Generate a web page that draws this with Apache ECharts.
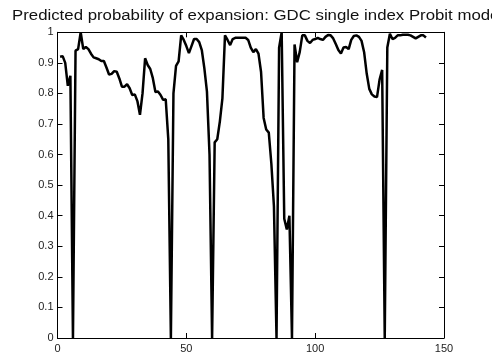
<!DOCTYPE html>
<html>
<head>
<meta charset="utf-8">
<script src="https://cdn.jsdelivr.net/npm/echarts@6/dist/echarts.min.js"></script>
<style>
html,body{margin:0;padding:0;background:#fff;}
#chart{width:492px;height:354px;}
</style>
</head>
<body>
<div id="chart"></div>
<script>
var titleText = "Predicted probability of expansion: GDC single index Probit model";
var xStart = 1; // first observation index
var probability = [
  0.920, 0.922, 0.900, 0.825, 0.858, 0.000, 0.940, 0.945, 1.000, 0.945,
  0.952, 0.945, 0.930, 0.918, 0.915, 0.912, 0.906, 0.906, 0.885, 0.862,
  0.864, 0.873, 0.871, 0.849, 0.822, 0.822, 0.830, 0.817, 0.795, 0.797,
  0.775, 0.730, 0.800, 0.915, 0.893, 0.880, 0.850, 0.805, 0.806, 0.795,
  0.779, 0.781, 0.650, 0.000, 0.800, 0.890, 0.905, 0.990, 0.975, 0.955,
  0.932, 0.955, 0.978, 0.978, 0.968, 0.942, 0.882, 0.806, 0.600, 0.000,
  0.640, 0.650, 0.708, 0.784, 0.990, 0.975, 0.958, 0.978, 0.982, 0.982,
  0.982, 0.982, 0.982, 0.975, 0.950, 0.935, 0.945, 0.930, 0.870, 0.720,
  0.682, 0.672, 0.570, 0.430, 0.000, 0.950, 1.000, 0.390, 0.355, 0.400,
  0.000, 0.960, 0.902, 0.935, 0.990, 0.990, 0.972, 0.965, 0.975, 0.978,
  0.982, 0.978, 0.975, 0.985, 0.991, 0.990, 0.980, 0.962, 0.942, 0.931,
  0.950, 0.952, 0.945, 0.975, 0.988, 0.990, 0.985, 0.972, 0.935, 0.865,
  0.815, 0.797, 0.790, 0.788, 0.845, 0.877, 0.000, 0.950, 0.995, 0.978,
  0.982, 0.990, 0.990, 0.992, 0.992, 0.992, 0.990, 0.985, 0.980, 0.985,
  0.990, 0.990, 0.983
];
var xMin = 0, xMax = 150, xStep = 50;
var yMin = 0, yMax = 1, yStep = 0.1;

var seriesData = probability.map(function (v, i) { return [xStart + i, v]; });

function axisLine() { return {show: true, onZero: false, lineStyle: {color: '#000', width: 1}}; }
function tick() { return {show: true, inside: true, length: 5, lineStyle: {color: '#000', width: 1}}; }
function lbl(margin) {
  return {show: true, margin: margin, color: '#222', fontSize: 11,
          fontFamily: 'Liberation Sans, Arial, sans-serif'};
}

var chart = echarts.init(document.getElementById('chart'), null, {renderer: 'canvas'});
chart.setOption({
  animation: false,
  backgroundColor: '#fff',
  graphic: [{
    type: 'text',
    x: 12,
    y: 9,
    scaleX: 1.2,
    style: {
      text: titleText,
      font: '14px "Liberation Sans", Arial, sans-serif',
      fill: '#111',
      textVerticalAlign: 'top'
    }
  }],
  grid: {left: 57.5, right: 48, top: 32.3, bottom: 16, containLabel: false},
  xAxis: [
    {type: 'value', min: xMin, max: xMax, interval: xStep, position: 'bottom',
     axisLine: axisLine(), axisTick: tick(), splitLine: {show: false},
     axisLabel: lbl(5)},
    {type: 'value', min: xMin, max: xMax, interval: xStep, position: 'top',
     axisLine: axisLine(), axisTick: tick(), splitLine: {show: false}, axisLabel: {show: false}}
  ],
  yAxis: [
    {type: 'value', min: yMin, max: yMax, interval: yStep, position: 'left',
     axisLine: axisLine(), axisTick: tick(), splitLine: {show: false},
     axisLabel: lbl(4)},
    {type: 'value', min: yMin, max: yMax, interval: yStep, position: 'right',
     axisLine: axisLine(), axisTick: tick(), splitLine: {show: false}, axisLabel: {show: false}}
  ],
  series: [{
    type: 'line',
    data: seriesData,
    xAxisIndex: 0,
    yAxisIndex: 0,
    showSymbol: false,
    symbol: 'none',
    smooth: false,
    lineStyle: {color: '#000', width: 2.5},
    clip: true
  }]
});
</script>
</body>
</html>
